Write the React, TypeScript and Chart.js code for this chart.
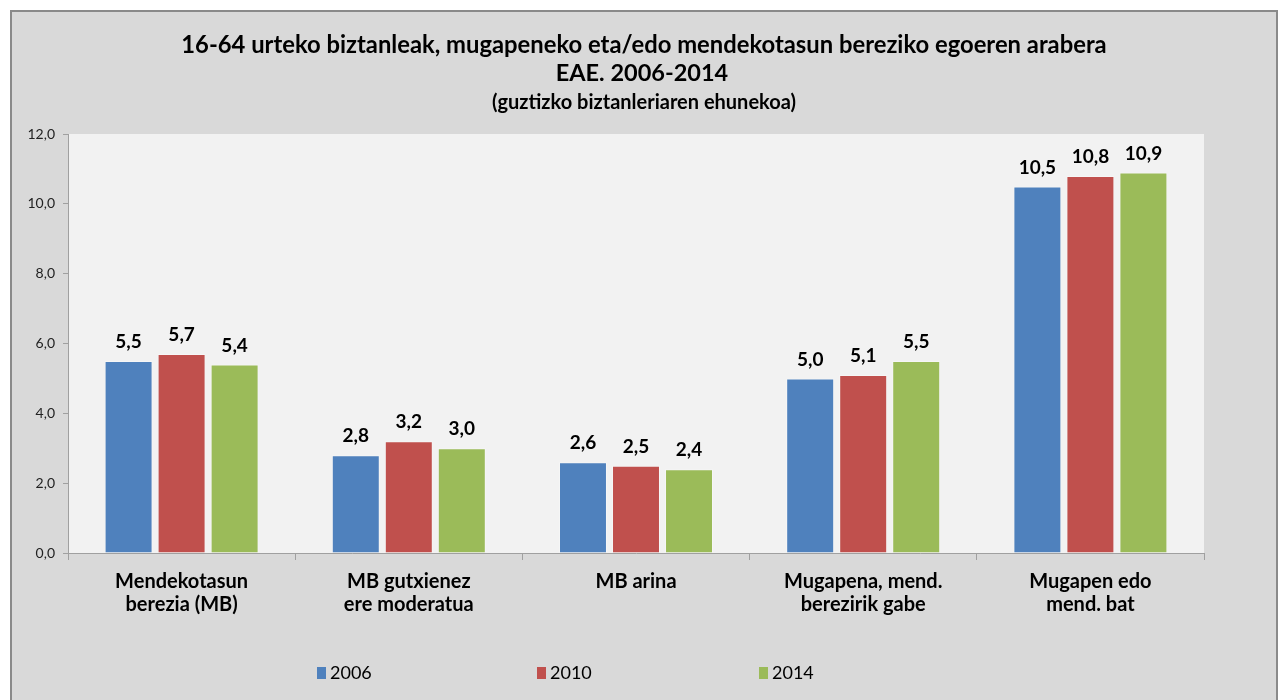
import React, { useEffect, useRef } from "react";
import { Chart, registerables } from "chart.js";

Chart.register(...registerables);

const categories: string[][] = [
  ["Mendekotasun", "berezia (MB)"],
  ["MB gutxienez", "ere moderatua"],
  ["MB arina"],
  ["Mugapena, mend.", "berezirik gabe"],
  ["Mugapen edo", "mend. bat"],
];
const seriesNames = ["2006", "2010", "2014"];
const values2006 = [5.5, 2.8, 2.6, 5.0, 10.5];
const values2010 = [5.7, 3.2, 2.5, 5.1, 10.8];
const values2014 = [5.4, 3.0, 2.4, 5.5, 10.9];
const seriesColors = ["#4f81bd", "#c0504d", "#9bbb59"];
const titleLines = [
  "16-64 urteko biztanleak, mugapeneko eta/edo mendekotasun bereziko egoeren arabera",
  "EAE. 2006-2014",
  "(guztizko biztanleriaren ehunekoa)",
];
const yMin = 0;
const yMax = 12;
const yStep = 2;

const FONT = "Lato, 'Open Sans', sans-serif";
const fmt = (v: number) => v.toFixed(1).replace(".", ",");

const W = 1264;
const H = 688;

export default function App() {
  const ref = useRef<HTMLCanvasElement | null>(null);

  useEffect(() => {
    if (!ref.current) return;

    const plotBg = {
      id: "plotBg",
      beforeDraw(chart: any) {
        const { ctx, chartArea: a } = chart;
        ctx.save();
        ctx.fillStyle = "#f2f2f2";
        ctx.fillRect(a.left, a.top, a.right - a.left, a.bottom - a.top);
        ctx.restore();
      },
    };

    const valueLabels = {
      id: "valueLabels",
      afterDatasetsDraw(chart: any) {
        const { ctx } = chart;
        ctx.save();
        ctx.font = `bold 19px ${FONT}`;
        ctx.fillStyle = "#000";
        ctx.textAlign = "center";
        ctx.textBaseline = "middle";
        chart.data.datasets.forEach((ds: any, i: number) => {
          const meta = chart.getDatasetMeta(i);
          meta.data.forEach((bar: any, j: number) => {
            ctx.fillText(fmt(ds.data[j]), bar.x, bar.y - 19);
          });
        });
        ctx.restore();
      },
    };

    const titleAndLegend = {
      id: "titleAndLegend",
      afterDraw(chart: any) {
        const { ctx } = chart;
        ctx.save();
        ctx.fillStyle = "#000";
        ctx.textAlign = "center";
        ctx.textBaseline = "middle";
        ctx.font = `bold 23.8px ${FONT}`;
        ctx.fillText(titleLines[0], 632, 33);
        ctx.font = `bold 23.5px ${FONT}`;
        ctx.fillText(titleLines[1], 630, 61);
        ctx.font = `bold 20px ${FONT}`;
        ctx.fillText(titleLines[2], 632, 91);

        const legendX = [305, 525, 747];
        ctx.font = `18px ${FONT}`;
        ctx.textAlign = "left";
        chart.data.datasets.forEach((ds: any, i: number) => {
          const x = legendX[i];
          ctx.fillStyle = ds.backgroundColor;
          ctx.fillRect(x, 655, 9, 12);
          ctx.fillStyle = "#000";
          ctx.fillText(ds.label, x + 13, 661);
        });
        ctx.restore();
      },
    };

    const chart = new Chart(ref.current, {
      type: "bar",
      data: {
        labels: categories,
        datasets: [values2006, values2010, values2014].map((d, i) => ({
          label: seriesNames[i],
          data: d,
          backgroundColor: seriesColors[i],
          borderColor: "rgba(255,255,255,0.35)",
          borderWidth: 1,
          categoryPercentage: 0.7,
          barPercentage: 0.905,
        })),
      },
      options: {
        responsive: false,
        animation: false,
        layout: { padding: { top: 122, right: 72, left: 0, bottom: 0 } },
        plugins: {
          legend: { display: false },
          title: { display: false },
          tooltip: { enabled: false },
        },
        scales: {
          x: {
            offset: true,
            afterFit: (s: any) => {
              s.height = 147;
            },
            border: { color: "#a0a0a0", width: 1 },
            grid: {
              offset: true,
              drawOnChartArea: false,
              drawTicks: true,
              tickLength: 7,
              color: "#a0a0a0",
            },
            ticks: {
              color: "#000",
              padding: 10,
              maxRotation: 0,
              autoSkip: false,
              font: { family: FONT, size: 20, weight: "bold", lineHeight: 1.15 },
            },
          },
          y: {
            min: yMin,
            max: yMax,
            afterFit: (s: any) => {
              s.width = 56;
            },
            border: { color: "#a0a0a0", width: 1 },
            grid: {
              drawOnChartArea: false,
              drawTicks: true,
              tickLength: 5,
              color: "#a0a0a0",
            },
            ticks: {
              stepSize: yStep,
              padding: 8,
              color: "#222",
              font: { family: FONT, size: 14 },
              callback: (v: any) => fmt(Number(v)),
            },
          },
        },
      },
      plugins: [plotBg, valueLabels, titleAndLegend],
    } as any);

    return () => chart.destroy();
  }, []);

  return (
    <div
      style={{
        position: "fixed",
        left: 10,
        top: 10,
        width: 1268,
        height: 690,
        boxSizing: "border-box",
        background: "#d9d9d9",
        borderLeft: "2px solid #8a8a8a",
        borderTop: "2px solid #8a8a8a",
        borderRight: "2px solid #8a8a8a",
      }}
    >
      <canvas ref={ref} width={W} height={H} style={{ display: "block" }} />
    </div>
  );
}
